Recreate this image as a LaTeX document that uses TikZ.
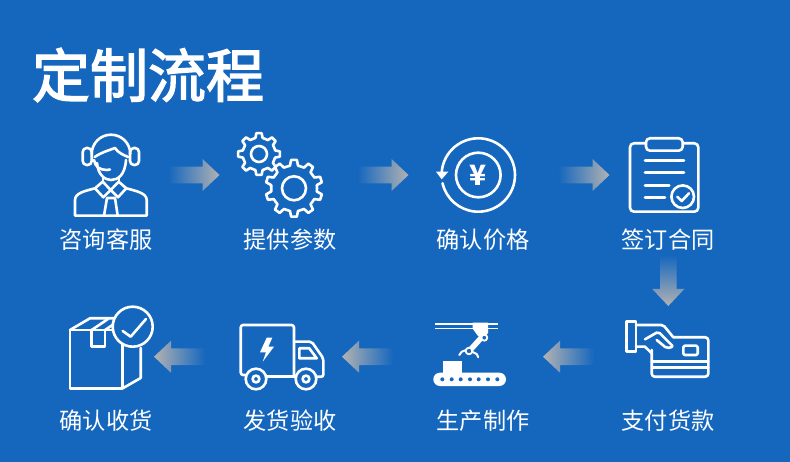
\documentclass[tikz,border=0pt]{standalone}
\usepackage{fontspec}
\setmainfont{Noto Sans CJK SC}
\newfontfamily\titlefont[FakeBold=2.4]{Noto Sans CJK SC}
\definecolor{bluebg}{RGB}{21,103,190}
\definecolor{arrowgray}{RGB}{178,178,178}
\tikzset{
  iconline/.style={draw=white,line width=2.6pt,line join=round,line cap=round},
  steplabel/.style={text=white,font=\fontsize{23.2}{25}\selectfont,inner sep=0pt},
  fadeE/.style={left color=bluebg,middle color=arrowgray!72!bluebg,right color=arrowgray},
  fadeW/.style={right color=bluebg,middle color=arrowgray!72!bluebg,left color=arrowgray},
  fadeS/.style={top color=bluebg,middle color=arrowgray!72!bluebg,bottom color=arrowgray}
}
\begin{document}
\begin{tikzpicture}[x=1pt,y=-1pt]
  \useasboundingbox (0,0) rectangle (790,462);
  \fill[bluebg] (0,0) rectangle (790,462);
  \node[text=white,font=\fontsize{58}{60}\selectfont\titlefont,inner sep=0pt] (title) at (148,75) {定制流程};
  \foreach \x/\y/\r/\f in {
    194/175/0/fadeE, 383/175/0/fadeE, 584/175/0/fadeE, 668.3/280.5/-90/fadeS,
    568.5/356.7/180/fadeW, 367.5/356.7/180/fadeW, 179.5/356.7/180/fadeW} {
    \shade[\f,shift={(\x,\y)},rotate=\r]
      (-25.5,-8.3) -- (8.5,-8.3) -- (8.5,-16) -- (25.5,0) -- (8.5,16) -- (8.5,8.3) -- (-25.5,8.3) -- cycle;
  }
  \foreach \x/\y/\name/\txt in {
    106/240/consult/咨询客服, 290/240/params/提供参数, 483/240/price/确认价格, 668/240/contract/签订合同,
    106/421/receive/确认收货, 290/421/inspect/发货验收, 483/421/produce/生产制作, 668/421/payment/支付货款} {
    \node[steplabel] (\name) at (\x,\y) {\txt};
  }
  % headset person
  \draw[iconline,rounded corners=4pt] (82.7,148) rectangle (91.7,165);
  \draw[iconline,rounded corners=4pt] (130,148) rectangle (139,165);
  \draw[iconline] (91.7,154) arc[start angle=180,end angle=360,radius=19.3];
  \draw[iconline] (94.7,157) .. controls (102,152) and (110,150) .. (115,148) .. controls (118,153) and (124,155) .. (128,157);
  \draw[iconline] (97,163) .. controls (98,175) and (105,180) .. (111,180) .. controls (118,180) and (125,175) .. (126,160);
  \draw[iconline] (94,160) .. controls (95,167) and (100,170) .. (107,170) -- (110,169.5);
  \draw[iconline] (103,177) -- (103,182) (119,177) -- (119,182);
  \draw[iconline] (95,188.3) -- (102.7,181.7) -- (110.7,190) -- (103.3,197.3) -- cycle;
  \draw[iconline] (126.3,188.3) -- (118.7,181.7) -- (110.7,190) -- (118,197.3) -- cycle;
  \draw[iconline] (104,215.7) -- (107,198) -- (115,198) -- (117.7,215.7);
  \draw[iconline] (95,188.3) .. controls (85,191) and (75,193) .. (75,200) -- (75,215.7) -- (146.7,215.7) -- (146.7,200) .. controls (146.7,193) and (136,191) .. (126.3,188.3);
  % gears
  \foreach \x/\y/\ro/\ri/\n/\h/\o in {259/154/21/16.5/8/8/22.5, 294/188.3/28.5/23/10/12/0} {
    \draw[iconline,fill=bluebg,shift={(\x,\y)},rotate=\o] (0:\ri)
      \foreach \k in {1,...,\n} {
        -- ({(\k-.78)*360/\n}:\ri) -- ({(\k-.66)*360/\n}:\ro)
        -- ({(\k-.34)*360/\n}:\ro) -- ({(\k-.22)*360/\n}:\ri)
      } -- cycle;
    \draw[iconline] (\x,\y) circle[radius=\h];
  }
  % yen
  \draw[iconline] (478.3,175) ++(185:36.7) arc[start angle=185,end angle=527,radius=36.7];
  \fill[white] (436,171.7) -- (448.3,171.7) -- (441.7,179.3) -- cycle;
  \draw[iconline] (478.3,175) circle[radius=22.3];
  \node[text=white,font=\fontsize{28}{28}\selectfont\bfseries,inner sep=0pt] (yen) at (478.3,175) {¥};
  % clipboard
  \draw[iconline,rounded corners=4pt] (630,143.3) rectangle (698.3,211.7);
  \draw[iconline,fill=bluebg,rounded corners=4pt] (646,138.3) rectangle (682.7,150.7);
  \draw[iconline] (645,160.7) -- (684,160.7) (645,172.3) -- (684,172.3) (645,185.3) -- (669.3,185.3) (645,197.3) -- (665,197.3);
  \draw[iconline,fill=bluebg] (682.7,196.7) circle[radius=11.3];
  \draw[iconline] (677.3,196.7) -- (681.7,201) -- (689,193.3);
  % box
  \draw[iconline] (70,330) -- (122.7,330) -- (122.7,388.3) -- (70,388.3) -- cycle;
  \draw[iconline] (70,330) -- (90,318.3) -- (120,318.3);
  \draw[iconline] (122.7,388.3) -- (140.7,378) -- (140.7,348);
  \draw[iconline] (91.7,330) -- (91.7,346.7) -- (105,346.7) -- (105,330);
  \draw[iconline] (91.7,330) -- (108,319) (105,330) -- (120,320);
  \draw[iconline,fill=bluebg] (132.7,326.7) circle[radius=20];
  \draw[iconline] (122.7,331) -- (130.7,336.7) -- (146,319);
  % truck
  \draw[iconline,rounded corners=2.5pt] (245.5,375) -- (240.7,375) -- (240.7,325) -- (294,325) -- (294,375);
  \draw[iconline] (266.7,376.7) -- (295,376.7);
  \draw[iconline,rounded corners=2pt] (294,341.7) -- (311.7,341.7) -- (323.3,358.3) -- (323.3,376.7) -- (316,376.7);
  \draw[iconline] (299.3,348.3) -- (309.3,348.3) -- (316.7,358.3) -- (299.3,358.3) -- cycle;
  \foreach \x in {256,306} {
    \draw[iconline,fill=bluebg] (\x,379) circle[radius=10.3];
    \draw[iconline] (\x,379) circle[radius=3.4];
  }
  \fill[white] (266.7,337.7) -- (260,352.3) -- (266,352.3) -- (262.7,361.7) -- (274,346.7) -- (268.3,346.7) -- (272.3,337.7) -- cycle;
  % robot
  \draw[white,line width=1.5pt] (435,324) -- (497.7,324) (435,328.7) -- (497.7,328.7);
  \fill[white] (472.7,322.7) -- (488,322.7) -- (488,333) -- (484,338) -- (478,336) -- (472.7,328.7) -- cycle;
  \draw[white,line width=5.5pt] (481.7,337.3) -- (469.3,351);
  \draw[iconline,fill=bluebg,line width=1.8pt] (484.3,337.7) circle[radius=3];
  \draw[iconline,fill=bluebg,line width=1.8pt] (469,351) circle[radius=3.3];
  \draw[iconline,line width=2pt] (459.3,355) -- (461.7,351.7) -- (466,350);
  \draw[iconline,line width=2pt] (478.3,357.3) -- (476.7,354) -- (472,351.7);
  \fill[white,rounded corners=6.6pt] (433.3,372.7) rectangle (506,386);
  \fill[white] (443.3,360.7) rectangle (461.7,373);
  \foreach \x in {442.3,451.7,460.7,470,478.7,488,497.3} {
    \fill[bluebg] (\x,379.3) circle[radius=2];
  }
  % card and hand
  \draw[iconline,rounded corners=3pt] (651.7,350) -- (651.7,376.7) -- (708.3,376.7) -- (708.3,337.3) -- (673.3,337.3);
  \draw[iconline] (652,361.7) -- (708.3,361.7) (652,367.7) -- (708.3,367.7);
  \draw[iconline,rounded corners=1.5pt] (683.3,345.7) rectangle (697.7,355);
  \draw[iconline] (626.7,321.7) -- (636,321.7) -- (636,351.7) -- (626.7,351.7) -- cycle;
  \draw[iconline,rounded corners=2pt] (636,325) -- (663.3,325) -- (673.3,337.3);
  \draw[iconline,rounded corners=2pt] (645,339.3) -- (658.3,331.7) -- (673.3,346.7) -- (666.7,348.3) -- (656.7,340);
  \draw[iconline] (636,346.7) -- (645,346.7) -- (651.7,353.3);
\end{tikzpicture}
\end{document}
